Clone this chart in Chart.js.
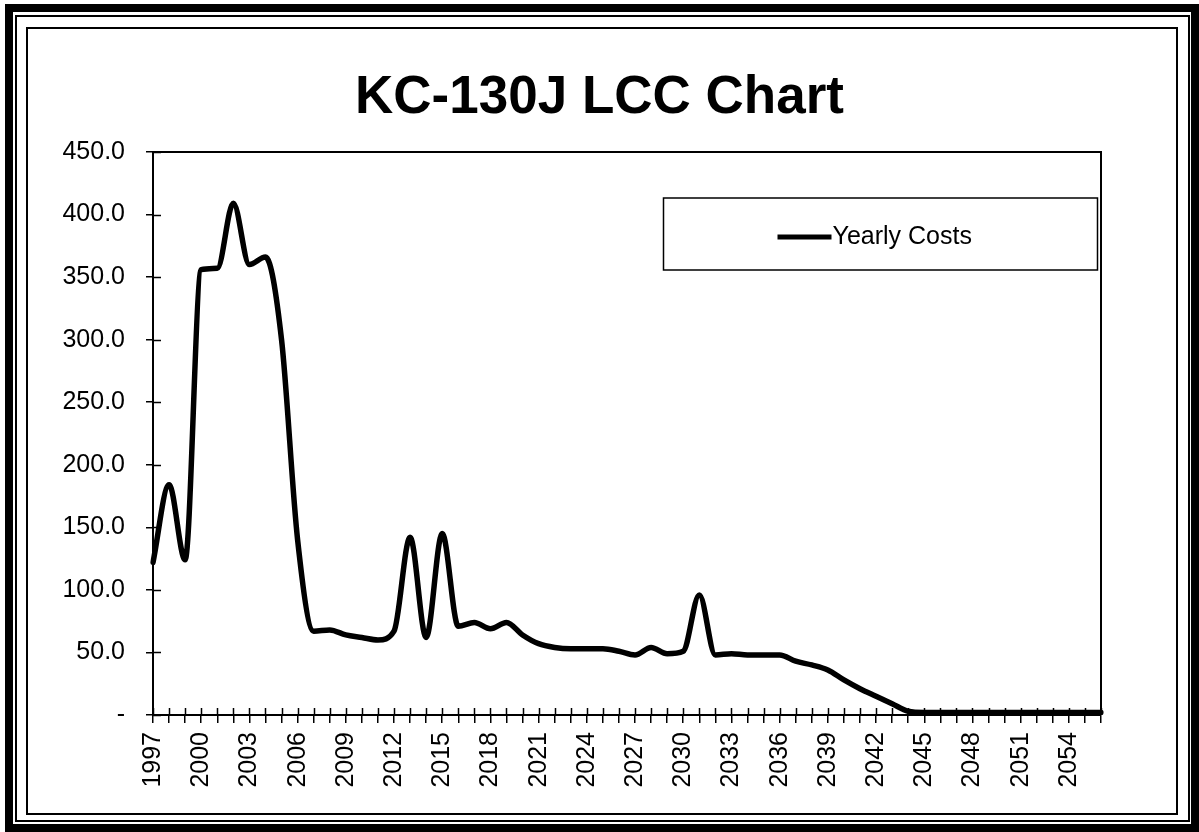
<!DOCTYPE html>
<html><head><meta charset="utf-8">
<script src="https://cdn.jsdelivr.net/npm/chart.js@4.4.0/dist/chart.umd.min.js"></script>
<style>
html,body{margin:0;padding:0;background:#fff;}
#wrap{position:relative;width:1199px;height:832px;overflow:hidden;}
canvas{position:absolute;left:0;top:0;}
.f{position:absolute;box-sizing:border-box;pointer-events:none;}
</style></head><body>
<div id="wrap">
<canvas id="c" width="1199" height="832"></canvas>
<div class="f" style="left:5px;top:4px;width:1194px;height:828px;border:8px solid #000;"></div>
<div class="f" style="left:15px;top:15px;width:1175px;height:807px;border:2px solid #000;"></div>
<div class="f" style="left:26px;top:27px;width:1152px;height:788px;border:2px solid #000;"></div>
</div>
<script>
const years = ['1997','1998','1999','2000','2001','2002','2003','2004','2005','2006',
  '2007','2008','2009','2010','2011','2012','2013','2014','2015','2016',
  '2017','2018','2019','2020','2021','2022','2023','2024','2025','2026',
  '2027','2028','2029','2030','2031','2032','2033','2034','2035','2036',
  '2037','2038','2039','2040','2041','2042','2043','2044','2045','2046',
  '2047','2048','2049','2050','2051','2052','2053','2054','2055','2056'];
const yearlyCosts = [122,184,124,356,357,409,360,366,300,140,
  67,68,64,62,60,67,142,62,145,71,
  74,69,74,64,57,54,53,53,53,51,
  48,54,49,51,96,48,49,48,48,48,
  43,40,36,28,21,15,9,3,2,2,
  2,2,2,2,2,2,2,2,2,2];
const yTickValues = [0,50,100,150,200,250,300,350,400,450];
const seriesName = 'Yearly Costs';
const chartTitle = 'KC-130J LCC Chart';

const FONT = "'Liberation Sans', Arial, sans-serif";

const extras = {
  id: 'extras',
  afterDraw(chart) {
    const ctx = chart.ctx;
    const a = chart.chartArea;
    const xs = chart.scales.x, ys = chart.scales.y;
    ctx.save();
    ctx.strokeStyle = '#000';
    ctx.lineWidth = 2;
    ctx.beginPath();
    ctx.moveTo(a.left, a.top);
    ctx.lineTo(a.right, a.top);
    ctx.lineTo(a.right, a.bottom);
    ctx.stroke();
    ctx.lineWidth = 1.5;
    ctx.beginPath();
    xs.ticks.forEach((t, i) => {
      const px = Math.round(xs.getPixelForTick(i)) + 0.5;
      ctx.moveTo(px, a.bottom);
      ctx.lineTo(px, a.bottom - 7);
    });
    ys.ticks.forEach((t, i) => {
      const py = Math.round(ys.getPixelForTick(i)) + 0.5;
      ctx.moveTo(a.left, py);
      ctx.lineTo(a.left + 8, py);
    });
    ctx.stroke();
    const w = a.right - a.left;
    const bx = a.left + w * 0.5385, by = a.top + 46, bw = 434, bh = 72;
    ctx.lineWidth = 1.5;
    ctx.strokeRect(bx, by, bw, bh);
    const ly = by + bh / 2 + 3;
    ctx.lineWidth = 5;
    ctx.beginPath();
    ctx.moveTo(bx + 114, ly);
    ctx.lineTo(bx + 168, ly);
    ctx.stroke();
    ctx.fillStyle = '#000';
    ctx.font = '25px ' + FONT;
    ctx.textBaseline = 'middle';
    ctx.textAlign = 'left';
    ctx.fillText(chart.data.datasets[0].label, bx + 169, ly);
    ctx.restore();
  }
};

new Chart(document.getElementById('c'), {
  type: 'line',
  data: {
    labels: years,
    datasets: [{
      label: seriesName,
      data: yearlyCosts,
      borderColor: '#000',
      backgroundColor: '#000',
      borderWidth: 5.5,
      pointRadius: 0,
      cubicInterpolationMode: 'monotone',
      fill: false,
      borderCapStyle: 'round',
      borderJoinStyle: 'round'
    }]
  },
  options: {
    responsive: false,
    animation: false,
    layout: { padding: 0 },
    plugins: {
      legend: { display: false },
      tooltip: { enabled: false },
      title: {
        display: true,
        text: chartTitle,
        color: '#000',
        font: { family: FONT, size: 53, weight: 'bold', lineHeight: 1.2 },
        padding: { top: 67, bottom: 21.4 }
      }
    },
    scales: {
      x: {
        type: 'category',
        offset: false,
        grid: { display: true, drawOnChartArea: false, drawTicks: true, tickLength: 8, color: '#000', lineWidth: 1.5 },
        border: { display: true, color: '#000', width: 2 },
        ticks: {
          autoSkip: false, maxRotation: 90, minRotation: 90, padding: 9, color: '#000',
          font: { family: FONT, size: 25 },
          callback: function(v, i) { return i % 3 === 0 ? this.getLabelForValue(v) : ''; }
        },
        afterFit: s => { s.height = 117; }
      },
      y: {
        min: 0, max: 450,
        afterBuildTicks: s => { s.ticks = yTickValues.map(v => ({ value: v })); },
        grid: { display: true, drawOnChartArea: false, drawTicks: true, tickLength: 7, color: '#000', lineWidth: 1.5 },
        border: { display: true, color: '#000', width: 2 },
        ticks: {
          padding: 21, color: '#000',
          font: { family: FONT, size: 25 },
          callback: v => v === 0 ? '-' : Number(v).toFixed(1)
        },
        afterFit: s => { s.width = 153; }
      },
      yRight: {
        position: 'right',
        min: 0, max: 450,
        grid: { display: false, drawOnChartArea: false },
        border: { display: false },
        ticks: { display: false },
        afterFit: s => { s.width = 98; }
      }
    }
  },
  plugins: [extras]
});
</script>
</body></html>
